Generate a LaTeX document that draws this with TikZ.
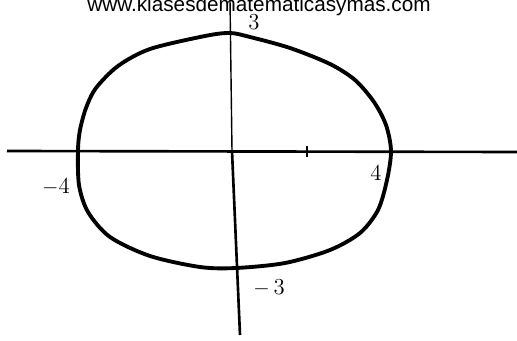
\documentclass[tikz,border=0pt]{standalone}
\usepackage{fontspec}
\usepackage{tikz}
\usetikzlibrary{positioning, calc}
\newfontfamily\webfont{Liberation Sans}
\tikzstyle{curve} = [line width=2.2pt, line join=round]
\tikzstyle{axis}  = [line width=1.5pt]
\tikzstyle{thinaxis} = [line width=0.8pt]
\tikzstyle{num}   = [font=\fontsize{13}{13}\selectfont, inner sep=1pt]

\begin{document}
\begin{tikzpicture}[x=0.02cm, y=-0.02cm]
\useasboundingbox (0,0) rectangle (517,341);
\begin{scope}
\clip (0,0) rectangle (517,341);
\node (web) [font=\webfont\fontsize{11.8}{12}\selectfont, anchor=base, inner sep=0pt] at (259,11.5) {www.klasesdematematicasymas.com};
\end{scope}
\coordinate (xl) at (7,151);
\coordinate (xr) at (517,152);
\coordinate (yt) at (230,0);
\coordinate (o) at (232,151);
\coordinate (yb) at (240,335);

\draw [axis] (xl) -- (xr);
\draw [thinaxis] (yt) -- (o);
\draw [axis] (o) -- (yb);
\draw [axis] (307,146) -- (307,157);

\draw [curve] plot[smooth cycle, tension=0.5] coordinates {
  (230,33) (205,36) (150,49) (118,66) (96,88) (86,108) (80,130) (78,150)
  (79,185) (88,212) (110,237) (150,256) (200,267) (236,268)
  (285,263) (330,250) (360,233) (378,210) (387,180) (391,151)
  (386,125) (374,102) (355,80) (330,64) (290,48) (250,37)};

\node (three) [num] at (254,22) {3};
\node (four) [num] at (376,173) {4};
\node (mfour) [num] at (56,187) {$-$4};
\node (mthree) [num] at (269,288) {$-$\,3};
\end{tikzpicture}
\end{document}
